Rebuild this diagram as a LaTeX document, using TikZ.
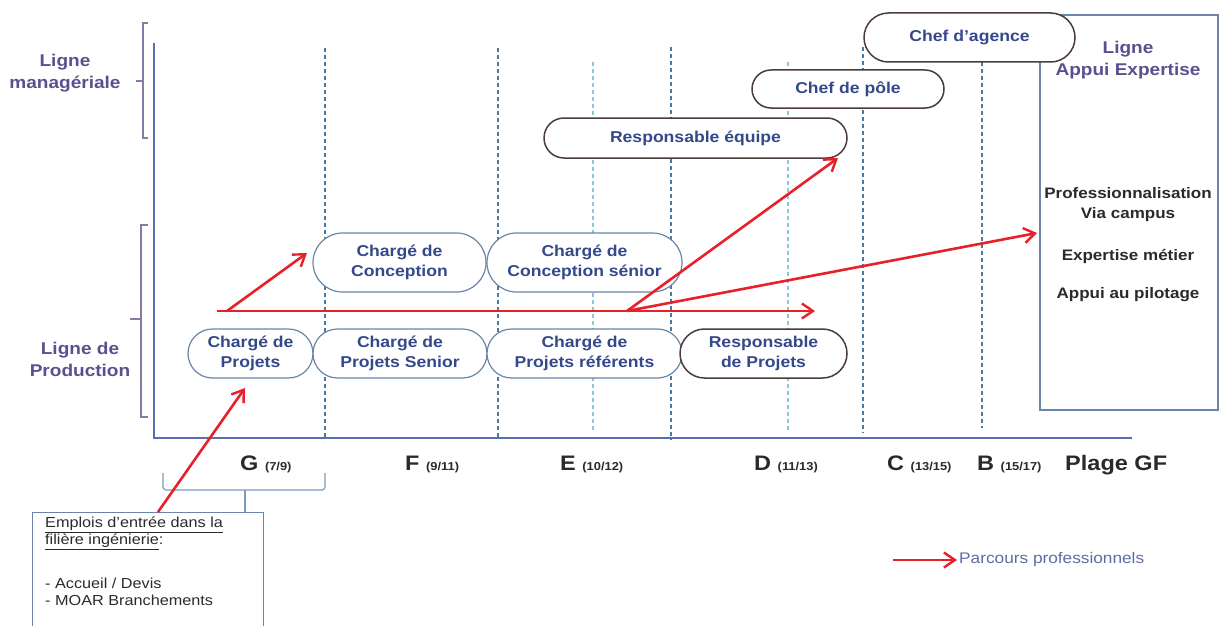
\documentclass[tikz,border=0pt]{standalone}
\usepackage{fontspec}
\setmainfont{Liberation Sans}[FakeStretch=1.12]
\usetikzlibrary{arrows.meta,shapes.misc}
\definecolor{boxblue}{HTML}{34498A}
\definecolor{edgeblue}{HTML}{6A85A5}
\definecolor{edgedark}{HTML}{4A3C3C}
\definecolor{lignecol}{HTML}{5B4F8F}
\definecolor{axecol}{HTML}{5A6FB0}
\definecolor{gridlight}{HTML}{8EC8D8}
\definecolor{griddark}{HTML}{4A7AA0}
\definecolor{parcours}{HTML}{E8202A}
\definecolor{bracecol}{HTML}{8A78A8}
\definecolor{entreecol}{HTML}{7A9AC0}
\definecolor{textdark}{HTML}{2A2A2A}
\tikzset{
  poste/.style={shape=rounded rectangle, draw=edgeblue, line width=1.2pt, fill=white,
    text=boxblue, font=\bfseries\fontsize{15.7}{20}\selectfont, align=center, inner sep=0pt},
  postechef/.style={poste, draw=edgedark, line width=1.5pt},
  fleche/.style={parcours, line width=2.6pt, -{Straight Barb[length=11pt,width=15pt,line width=2.4pt]}},
  grille/.style={dash pattern=on 4pt off 3pt, line width=1.2pt},
  ligne/.style={text=lignecol, font=\bfseries\fontsize{17}{22}\selectfont, align=center},
  plage/.style={anchor=base west, text=textdark, font=\bfseries\fontsize{21}{24}\selectfont, inner sep=0pt},
}
\newcommand{\gf}[1]{{\fontsize{11.5}{12}\selectfont #1}}

\begin{document}
\begin{tikzpicture}[x=1pt,y=-1pt]
\useasboundingbox (0,0) rectangle (1223,626);

% grille des plages
\foreach \x/\ya/\yb/\c in {325/48/440/griddark, 498/48/440/griddark, 593/62/433/gridlight,
  671/47/440/griddark, 788/62/433/gridlight, 863/47/433/griddark, 982/62/428/griddark}
  \draw [grille,\c] (\x,\ya) -- (\x,\yb);

% axes
\draw [axecol,line width=1.5pt] (154,43) -- (154,438) -- (1132,438);

% accolades a gauche
\draw [bracecol,line width=1.2pt] (148,23) -- (143,23) -- (143,138) -- (148,138) (143,81) -- (136,81);
\draw [bracecol,line width=1.2pt] (148,225) -- (141,225) -- (141,417) -- (148,417) (141,319) -- (130,319);
\node [ligne] (manag) at (65,73) {Ligne\\managériale};
\node [ligne] (prod) at (80,359) {Ligne de\\Production};

% ligne appui expertise
\draw [edgeblue,line width=1.3pt] (1040,15) rectangle (1218,410);
\node [ligne] (appui) at (1128,60) {Ligne\\Appui Expertise};
\node [text=textdark, font=\bfseries\fontsize{15.2}{20}\selectfont, align=center] (campus) at (1128,205) {Professionnalisation\\Via campus};
\node [text=textdark, font=\bfseries\fontsize{15.2}{20}\selectfont] (metier) at (1128,257) {Expertise métier};
\node [text=textdark, font=\bfseries\fontsize{15.2}{20}\selectfont] (pilotage) at (1128,295) {Appui au pilotage};

% postes
\node [poste, minimum width=125, minimum height=49] (projets) at (250.5,353.5) {Chargé de\\Projets};
\node [poste, minimum width=174, minimum height=49] (senior) at (400,353.5) {Chargé de\\Projets Senior};
\node [poste, minimum width=195, minimum height=49] (referent) at (584.5,353.5) {Chargé de\\Projets référents};
\node [postechef, minimum width=167, minimum height=49] (respproj) at (763.5,353.5) {Responsable\\de Projets};
\node [poste, minimum width=173, minimum height=59] (concep) at (399.5,262.5) {Chargé de\\Conception};
\node [poste, minimum width=195, minimum height=59] (concsen) at (584.5,262.5) {Chargé de\\Conception sénior};
\node [postechef, minimum width=303, minimum height=40] (respeq) at (695.5,138) {Responsable équipe};
\node [postechef, minimum width=192, minimum height=38] (pole) at (848,89) {Chef de pôle};
\node [postechef, minimum width=211, minimum height=49] (agence) at (969.5,37.5) {Chef d'agence};

% plages GF
\node [plage] (g) at (240,470) {G \gf{(7/9)}};
\node [plage] (f) at (405,470) {F \gf{(9/11)}};
\node [plage] (e) at (560,470) {E \gf{(10/12)}};
\node [plage] (d) at (754,470) {D \gf{(11/13)}};
\node [plage] (c) at (887,470) {C \gf{(13/15)}};
\node [plage] (b) at (977,470) {B \gf{(15/17)}};
\node [plage] (gf) at (1065,470) {Plage GF};

% emplois d'entree
\draw [entreecol,line width=1.2pt,rounded corners=3pt] (163,473) -- (163,490) -- (325,490) -- (325,473);
\draw [entreecol,line width=1.2pt] (245,490) -- (245,512);
\node [draw=edgeblue, line width=1.2pt, anchor=north west, minimum width=231, minimum height=130] (entree) at (32,512) {};
\node [anchor=north west, align=left, inner sep=0pt, text=textdark, font=\fontsize{14.5}{17}\selectfont] (entreetxt) at (45,517)
  {\underline{Emplois d'entrée dans la}\\\underline{filière ingénierie}:\\[27pt]- Accueil / Devis\\- MOAR Branchements};

% parcours
\coordinate (depart) at (217,311);
\coordinate (fourche) at (227,311);
\coordinate (branche) at (627,311);
\coordinate (finmain) at (815,311);
\coordinate (versconcep) at (307,253);
\coordinate (verseq) at (838,158);
\coordinate (versappui) at (1037,233);
\coordinate (versprojets) at (245,388);
\draw [fleche] (depart) -- (finmain);
\draw [fleche] (fourche) -- (versconcep);
\draw [fleche] (branche) -- (verseq);
\draw [fleche] (branche) -- (versappui);
\draw [fleche] ([xshift=126pt]entree.north west) -- (versprojets);

% legende
\coordinate (legende) at (893,560);
\node [anchor=west, inner sep=2pt, text=boxblue!80, font=\fontsize{15.4}{18}\selectfont] (legtxt) at (957,560) {Parcours professionnels};
\draw [fleche] (legende) -- (legtxt.west);
\end{tikzpicture}
\end{document}
